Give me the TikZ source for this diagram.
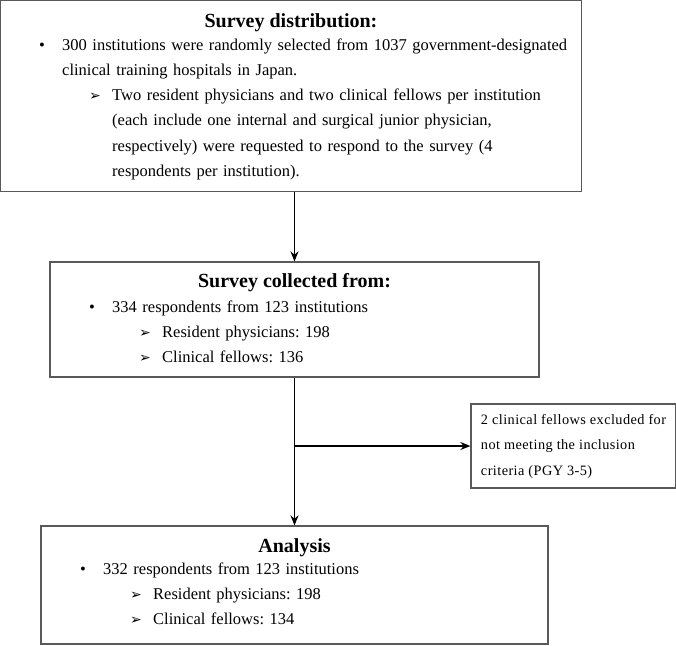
\documentclass[tikz,border=0pt]{standalone}
\usepackage{fontspec}
\setmainfont{Liberation Serif}
\newfontfamily\dingfont{DejaVu Sans}
\usetikzlibrary{positioning,arrows.meta}
\frenchspacing

\newcommand{\bul}{\makebox[23pt][l]{\textbullet}}
\newcommand{\subitm}{\hspace*{50pt}\makebox[23pt][l]{\dingfont\fontsize{14}{14}\selectfont ➢}}
\newcommand{\cont}[1]{\hspace*{#1pt}}

\begin{document}
\begin{tikzpicture}[
        x=1pt, y=-1pt,
        box/.style={draw=black!65, line width=1.2pt, rectangle, inner sep=0pt},
        head/.style={font=\fontsize{20}{24}\selectfont\bfseries, inner sep=0pt, anchor=base},
        body/.style={font=\fontsize{16.5}{25.3}\selectfont, text width=580pt, align=left, inner sep=0pt, anchor=base west},
        flow/.style={-{Stealth[length=10pt,width=8pt]}, line width=1.8pt}]

        \useasboundingbox (0,0) rectangle (676,645);

        % boxes
        \node[box, minimum width=581pt, minimum height=191pt] (dist) at (291,96) {};
        \node[box, minimum width=489pt, minimum height=115pt] (coll) at (294.5,319.5) {};
        \node[box, minimum width=507pt, minimum height=118pt] (anal) at (294.5,585) {};
        \node[box, minimum width=203pt, minimum height=84pt, align=left, inner xsep=10pt,
            font=\fontsize{14.3}{25.5}\selectfont\addfontfeature{LetterSpace=3}] (excl) at (573.5,446)
            {2 clinical fellows excluded for\\not meeting the inclusion\\criteria (PGY 3-5)};

        % titles
        \node[head] (disthead) at (291,27) {Survey distribution:};
        \node[head] (collhead) at (294.5,287) {Survey collected from:};
        \node[head] (analhead) at (294.5,552) {Analysis};

        % contents
        \node[body] (distbody) at (39,50) {\bul 300 institutions were randomly selected from 1037 government-designated\\
            \cont{23}clinical training hospitals in Japan.\\
            \subitm Two resident physicians and two clinical fellows per institution\\
            \cont{73}(each include one internal and surgical junior physician,\\
            \cont{73}respectively) were requested to respond to the survey (4\\
            \cont{73}respondents per institution).};
        \node[body] (collbody) at (89,312) {\bul 334 respondents from 123 institutions\\
            \subitm Resident physicians: 198\\
            \subitm Clinical fellows: 136};
        \node[body] (analbody) at (80,574) {\bul 332 respondents from 123 institutions\\
            \subitm Resident physicians: 198\\
            \subitm Clinical fellows: 134};

        % arrows
        \draw[flow] (coll.north |- dist.south) -- (coll.north);
        \draw[flow] (coll.south) -- (anal.north);
        \draw[flow] (coll.south |- excl.west) -- (excl.west);
    \end{tikzpicture}
\end{document}
